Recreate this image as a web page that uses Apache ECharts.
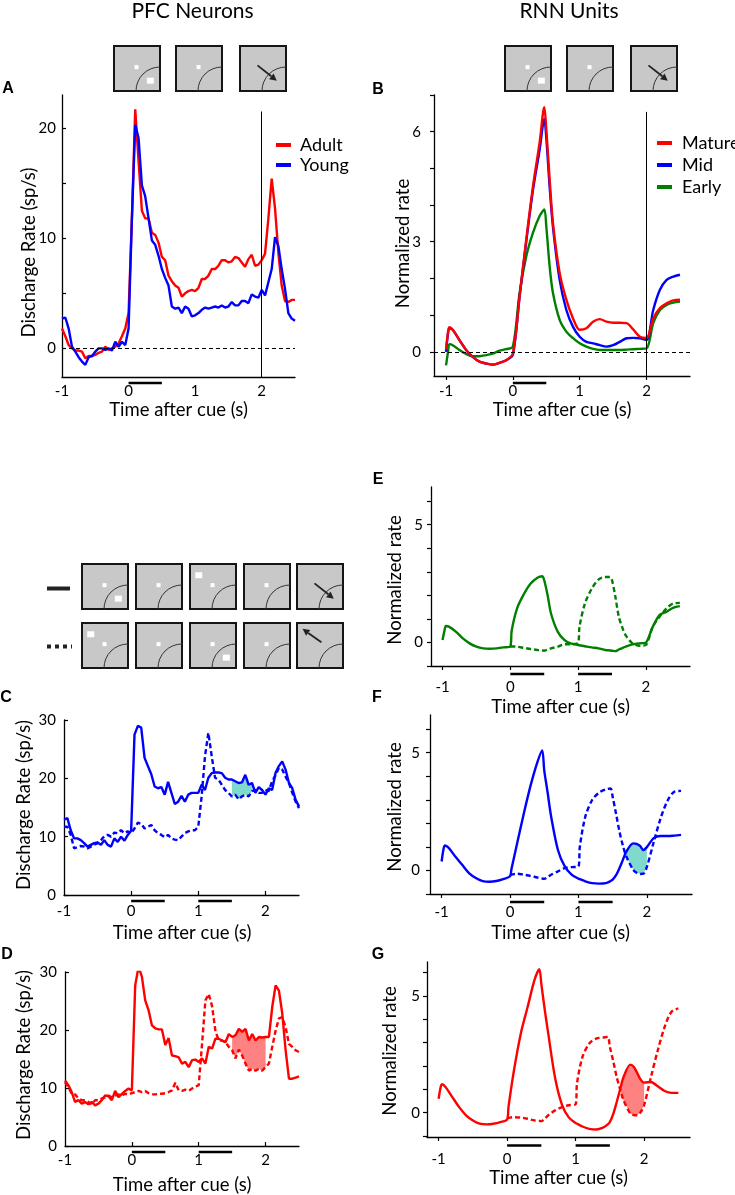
<!DOCTYPE html>
<html><head><meta charset="utf-8">
<script src="https://cdn.jsdelivr.net/npm/echarts@6/dist/echarts.min.js"></script>
<style>html,body{margin:0;padding:0;background:#fff}#c{width:735px;height:1195px}</style>
</head><body><div id="c"></div>
<script>
// ---------------- DATA ----------------
// PFC time base (s after cue), used by panels A, C, D
const tPFC = [-1,-0.95,-0.9,-0.85,-0.8,-0.75,-0.7,-0.65,-0.6,-0.55,-0.5,-0.45,-0.4,-0.35,-0.3,-0.25,-0.2,-0.15,-0.1,-0.05,
  0,0.05,0.1,0.15,0.2,0.25,0.3,0.35,0.4,0.45,0.5,0.55,0.6,0.65,0.7,0.75,0.8,0.85,0.9,0.95,
  1,1.05,1.1,1.15,1.2,1.25,1.3,1.35,1.4,1.45,1.5,1.55,1.6,1.65,1.7,1.75,1.8,1.85,1.9,1.95,
  2,2.05,2.1,2.15,2.2,2.25,2.3,2.35,2.4,2.45,2.5];
// Panel A
const adult = [1.8,1.1,0.3,0,-0.2,-0.2,-0.3,-0.9,-0.7,-0.7,-0.6,-0.4,-0.3,0.15,-0.15,0,0.15,0.45,1.1,1.8,
  3.2,11.8,21.7,17,12.5,11.8,11.8,10.5,10.3,9.6,8.3,8.0,6.6,6.1,5.7,5.5,4.7,5.0,5.2,5.3,
  5.2,5.5,6.3,6.3,6.6,7.2,7.2,7.5,8.0,8.0,7.8,7.9,8.3,8.2,7.8,7.4,8.1,8.5,7.5,7.6,
  8.0,8.6,11.8,15.4,12.7,8.7,5.7,4.3,4.2,4.4,4.4];
const young = [2.7,2.8,1.8,0.15,-0.3,-0.8,-1.2,-1.5,-0.8,-0.7,-0.3,0,0,-0.15,0,-0.2,0.6,0.15,0.6,0.3,
  1.8,11.8,20.3,19.1,14.8,13.8,11.8,9.8,9.4,8.4,7.2,6.4,5.7,3.8,3.6,3.7,3.2,3.8,3.6,2.9,
  3.0,3.2,3.5,3.7,3.6,3.7,3.8,3.7,3.9,3.7,3.8,4.2,3.9,3.9,4.3,4.3,4.1,4.9,4.7,4.6,
  5.3,4.8,6.0,7.2,10.1,9.3,7.2,5.4,3.2,2.7,2.5];
// Panel C (young, blue): solid = cue in RF, dashed = cue out of RF
const cSolid = [12.9,13.2,11.1,9.7,9.7,9.4,8.9,8.3,8.6,8.9,9.0,8.6,9.4,8.6,8.3,9.7,9.1,10.0,9.3,10.3,
  11.0,27.5,29.0,28.7,23.5,22.1,20.7,18.6,18.3,18.5,17.2,19.4,17.5,15.6,16.0,17.0,16.0,17.2,17.5,17.5,
  17.5,18.9,18.0,20.1,20.9,21.0,21.0,20.9,20.1,19.8,19.8,19.5,19.2,19.3,20.6,18.9,19.2,17.5,18.5,18.0,
  17.2,18.3,18.0,20.9,22.1,22.9,21.5,19.2,18.3,16.3,15.2];
const cDashed = [11.7,11.7,10.3,8.0,8.2,8.4,8.3,8.0,8.3,8.6,8.9,9.4,10.1,10.3,10.0,10.7,10.6,11.1,10.6,10.9,
  10.6,11.4,12.4,12.2,11.4,11.7,12.0,11.1,10.6,10.3,9.9,10.3,9.7,9.5,9.4,10.0,10.6,10.9,11.1,11.1,
  11.7,16.9,23.8,27.8,23.8,20.1,19.8,18.9,18.0,17.5,16.9,17.2,16.4,16.9,17.2,16.9,17.8,18.0,17.5,17.5,
  18.0,17.8,19.5,20.5,21.8,21.5,20.3,19.2,17.5,16.0,14.9];
// Panel D (adult, red)
const dSolid = [11.3,10.5,9.3,7.6,7.9,7.3,7.6,7.2,7.6,7.0,7.3,7.9,8.7,8.6,7.9,9.5,8.4,9.0,9.5,9.9,
  9.6,27.7,30.9,29.2,25.1,23.4,20.8,20.3,20.1,20.1,17.4,18.6,15.6,15.5,15.3,14.2,14.5,13.6,14.8,14.9,
  14.5,15.1,14.2,17.1,16.8,18.5,18.5,18.2,17.9,19.3,18.8,19.1,20.2,19.7,20.2,18.2,19.3,18.2,18.8,18.7,
  18.8,18.8,24.0,27.7,26.8,22.8,16.5,11.6,11.6,11.8,12.0];
const dDashed = [11.0,10.2,9.0,8.9,8.2,7.9,7.9,7.6,7.2,7.9,7.9,8.2,8.4,8.7,8.4,8.7,8.9,8.7,9.0,8.9,
  9.1,9.3,9.5,9.3,9.5,9.1,8.9,8.9,9.0,9.0,9.1,9.3,9.6,10.9,9.6,9.5,9.7,9.5,9.9,10.2,
  10.5,17.6,25.1,26.2,24.1,19.8,18.2,18.2,17.9,17.1,16.5,15.1,16.6,15.6,14.2,13.0,13.3,13.0,13.3,13.0,
  13.6,14.2,17.1,19.9,22.0,22.2,20.5,17.6,17.1,16.5,16.2];
// Panel B time base and RNN curves
const tB = [-1,-0.97,-0.95,-0.9,-0.8,-0.7,-0.6,-0.5,-0.4,-0.3,-0.2,-0.1,
  0,0.1,0.2,0.3,0.4,0.47,0.5,0.55,0.6,0.7,0.8,0.9,
  1,1.1,1.2,1.3,1.4,1.5,1.6,1.7,1.8,1.9,2,2.1,2.2,2.3,2.4,2.5];
const mature = [0.05,0.55,0.67,0.6,0.32,0.05,-0.14,-0.27,-0.32,-0.35,-0.3,-0.23,
  -0.05,1.5,3.06,4.5,5.7,6.67,6.07,4.7,3.5,2.15,1.42,0.91,
  0.6,0.64,0.82,0.89,0.82,0.79,0.79,0.78,0.61,0.41,0.38,0.91,1.19,1.32,1.4,1.42];
const mid = [0,0.5,0.64,0.6,0.32,0.05,-0.14,-0.27,-0.32,-0.35,-0.3,-0.23,
  -0.08,1.5,3.0,4.4,5.5,6.35,5.84,4.5,3.4,1.96,1.14,0.68,
  0.41,0.27,0.23,0.18,0.14,0.18,0.27,0.37,0.38,0.37,0.32,1.14,1.69,1.96,2.05,2.1];
const early = [-0.37,0,0.21,0.18,0.05,-0.06,-0.12,-0.12,-0.09,-0.05,0.03,0.07,
  0.14,1.6,2.6,3.24,3.7,3.88,3.42,2.33,1.6,0.87,0.55,0.37,
  0.23,0.14,0.08,0.05,0.05,0.05,0.05,0.06,0.07,0.08,0.09,0.78,1.14,1.28,1.34,1.37];
// RNN time base for panels E, F, G
const tRNN = [-1,-0.97,-0.95,-0.9,-0.8,-0.7,-0.6,-0.5,-0.4,-0.3,-0.2,-0.1,
  0,0.02,0.1,0.2,0.3,0.4,0.47,
  0.5,0.55,0.6,0.7,0.8,0.9,
  1,1.02,1.1,1.2,1.3,1.4,1.47,
  1.5,1.55,1.6,1.65,1.7,1.8,1.85,1.9,1.95,
  2,2.1,2.2,2.3,2.4,2.5];
const eSolid = [0.1,0.52,0.7,0.66,0.45,0.17,-0.04,-0.18,-0.25,-0.27,-0.25,-0.21,
  -0.16,0.5,1.45,2.05,2.5,2.75,2.81,
  2.64,2.0,1.23,0.45,0.1,-0.05,
  -0.11,-0.12,-0.16,-0.21,-0.25,-0.32,-0.34,
  -0.35,-0.37,-0.3,-0.24,-0.18,-0.08,-0.06,-0.04,-0.03,
  -0.01,0.66,1.16,1.3,1.47,1.54];
const eDashed = [null,null,null,null,null,null,null,null,null,null,null,null,
  -0.16,-0.17,-0.18,-0.23,-0.28,-0.32,-0.34,
  -0.35,-0.31,-0.25,-0.18,-0.08,-0.07,
  -0.01,0.66,1.65,2.28,2.67,2.78,2.78,
  2.64,1.93,1.09,0.65,0.31,-0.04,-0.1,-0.14,-0.13,
  -0.11,0.66,1.09,1.44,1.65,1.68];
const fSolid = [0.38,0.94,1.06,0.97,0.59,0.24,-0.11,-0.32,-0.45,-0.48,-0.45,-0.37,
  -0.25,0.05,1.1,2.4,3.6,4.6,5.1,
  4.25,3.3,2.3,0.87,0.17,-0.18,
  -0.35,-0.37,-0.46,-0.54,-0.56,-0.54,-0.45,
  -0.39,-0.2,0.1,0.45,0.8,1.15,1.13,1.04,0.87,
  0.99,1.37,1.46,1.46,1.48,1.51];
const fDashed = [null,null,null,null,null,null,null,null,null,null,null,null,
  -0.2,-0.18,-0.14,-0.18,-0.23,-0.3,-0.34,
  -0.35,-0.28,-0.18,-0.04,0.1,0.14,
  0.17,1.0,2.28,2.99,3.3,3.44,3.48,
  3.13,2.4,1.65,1.05,0.59,0.03,-0.1,-0.15,-0.14,
  0.15,1.2,2.2,2.95,3.34,3.38];
const gSolid = [0.6,1.1,1.22,1.1,0.67,0.24,-0.11,-0.33,-0.47,-0.5,-0.47,-0.4,
  -0.29,0.25,1.82,3.4,4.54,5.69,6.15,
  5.5,4.4,3.4,1.5,0.35,-0.2,
  -0.44,-0.47,-0.59,-0.69,-0.72,-0.64,-0.5,
  -0.4,-0.05,0.46,1.0,1.53,2.06,1.96,1.7,1.42,
  1.29,1.32,1.13,0.93,0.85,0.85];
const gDashed = [null,null,null,null,null,null,null,null,null,null,null,null,
  -0.23,-0.22,-0.19,-0.21,-0.26,-0.33,-0.35,
  -0.36,-0.25,-0.11,0.1,0.24,0.32,
  0.36,1.25,2.39,2.97,3.18,3.22,3.25,
  2.82,2.2,1.53,1.0,0.53,-0.04,-0.1,-0.11,0.03,
  0.32,1.53,2.68,3.68,4.33,4.47];
// stimulus epochs (s)
const epochsAB = [[0,0.5]];
const epochsCG = [[0,0.5],[1,1.5]];
// shaded windows
const shadeC = [1.5,1.8], shadeD = [1.5,2.0], shadeF = [1.65,2.0], shadeG = [1.65,2.0];
// response time marker
const respTime = 2;
// tick values
const xTickLabels = [-1,0,1,2];
const aYTicks = [0,5,10,15,20], aYLabels = [0,10,20];
const bYTicks = [0,1,2,3,4,5,6,7], bYLabels = [0,3,6];
const cdYTicks = [0,10,20,30];
const rnnYTicks = [-1,0,1,2,3,4,5,6], rnnYLabels = [0,5];

// ---------------- CHART ----------------
const FONT = 'Lato, "Open Sans", "DejaVu Sans", sans-serif';
const RED = '#ff0000', BLUE = '#0000ff', GREEN = '#008000';
const CYAN = '#80d9cd', PINK = '#ff8282';

function pairs(t, v){ const o=[]; for(let i=0;i<t.length;i++){ if(v[i]!==null && v[i]!==undefined) o.push([t[i], v[i]]); } return o; }

const P = [
  {grid:{left:62,top:95,width:233,height:282}, x:[-1,2.5], y:[-2.6,23], xt:null, xin:false, yt:aYTicks, yl:aYLabels, yin:true, xm:7, ym:6},
  {grid:{left:434,top:95,width:256,height:281}, x:[-1.18,2.65], y:[-0.66,7], xt:xTickLabels, xin:false, yt:bYTicks, yl:bYLabels, yin:false, xm:8, ym:13},
  {grid:{left:64,top:720,width:235,height:175}, x:[-1,2.5], y:[0,30], xt:[0,1,2], xin:true, yt:cdYTicks, yl:cdYTicks, yin:true, xm:9, ym:8},
  {grid:{left:65,top:972,width:234,height:174}, x:[-1,2.5], y:[0,30], xt:[0,1,2], xin:true, yt:cdYTicks, yl:cdYTicks, yin:true, xm:7, ym:8},
  {grid:{left:431,top:487,width:259,height:179}, x:[-1.17,2.65], y:[-1,6.6], xt:xTickLabels, xin:false, yt:rnnYTicks, yl:rnnYLabels, yin:false, xm:14, ym:8},
  {grid:{left:430,top:715,width:262,height:179}, x:[-1.17,2.66], y:[-1,6.6], xt:xTickLabels, xin:false, yt:rnnYTicks, yl:rnnYLabels, yin:false, xm:11, ym:10},
  {grid:{left:427,top:962,width:263,height:175}, x:[-1.17,2.67], y:[-1.04,6.46], xt:xTickLabels, xin:false, yt:rnnYTicks, yl:rnnYLabels, yin:false, xm:15, ym:7}
];

const axisLineStyle = {color:'#000', width:1.3};
const labelStyle = {fontSize:15, color:'#000', fontFamily:FONT};
const grids=[], xAxes=[], yAxes=[];
P.forEach((p,i)=>{
  grids.push(Object.assign({containLabel:false}, p.grid));
  xAxes.push({gridIndex:i, type:'value', min:p.x[0], max:p.x[1],
    axisLine:{show:true, onZero:false, lineStyle:axisLineStyle}, splitLine:{show:false},
    axisTick: p.xt ? {show:true, inside:p.xin, length:4, customValues:p.xt, lineStyle:{color:'#000', width:1.2}} : {show:false},
    axisLabel:Object.assign({customValues:xTickLabels, margin:p.xm}, labelStyle)});
  yAxes.push({gridIndex:i, type:'value', min:p.y[0], max:p.y[1],
    axisLine:{show:true, onZero:false, lineStyle:axisLineStyle}, splitLine:{show:false},
    axisTick:{show:true, inside:p.yin, length:4, customValues:p.yt, lineStyle:{color:'#000', width:1.2}},
    axisLabel:Object.assign({customValues:p.yl, margin:p.ym}, labelStyle)});
});

function line(gi, name, t, v, color, dashed, smooth, extra){
  return Object.assign({type:'line', name:name, xAxisIndex:gi, yAxisIndex:gi, data:pairs(t,v), color:color,
    symbol:'none', smooth:smooth, silent:true, z:3,
    lineStyle:{color:color, width:2.4, type: dashed ? [5,3] : 'solid'}}, extra||{});
}
// filled region between two curves over a window, drawn through the axis scales
function fill(gi, t, upper, lower, win, color){
  const rows=[];
  for(let i=0;i<t.length;i++){
    if(t[i]>=win[0]-1e-9 && t[i]<=win[1]+1e-9 && upper[i]!=null && lower[i]!=null) rows.push([t[i], upper[i], lower[i]]);
  }
  return {type:'custom', xAxisIndex:gi, yAxisIndex:gi, data:rows, silent:true, z:1, encode:{x:0, y:[1,2]},
    renderItem:(params, api)=>{
      if(params.dataIndex!==0) return null;
      const top=rows.map(r=>api.coord([r[0], Math.max(r[1], r[2])]));
      const bot=rows.map(r=>api.coord([r[0], r[2]])).reverse();
      return {type:'polygon', shape:{points:top.concat(bot)}, style:{fill:color}};
    }};
}
function epochs(gi, ep, yBottom, off){
  return {type:'custom', xAxisIndex:gi, yAxisIndex:gi, data:ep, clip:false, silent:true, z:5, encode:{x:[0,1]},
    renderItem:(params, api)=>{
      const a=api.coord([api.value(0), yBottom]), b=api.coord([api.value(1), yBottom]);
      return {type:'line', shape:{x1:a[0], y1:a[1]+off, x2:b[0], y2:b[1]+off}, style:{stroke:'#000', lineWidth:2.5}};
    }};
}
function refLines(yMin, vTop){
  const data = [{yAxis:0, lineStyle:{color:'#000', width:1, type:[4,3]}}];
  if(vTop!==null) data.push([{coord:[respTime, yMin], lineStyle:{color:'#000', width:1, type:'solid'}}, {coord:[respTime, vTop]}]);
  return {silent:true, symbol:['none','none'], label:{show:false}, animation:false, lineStyle:{type:'solid', color:'#000', width:1}, data:data};
}

const RS = 0.3; // smoothing for RNN curves
const series = [
  // A
  line(0,'Adult',tPFC,adult,RED,false,false,{markLine:refLines(-2.6,21.5)}),
  line(0,'Young',tPFC,young,BLUE,false,false),
  epochs(0,epochsAB,-2.6,6),
  // B
  line(1,'Early',tB,early,GREEN,false,RS,{markLine:refLines(-0.66,6.54)}),
  line(1,'Mid',tB,mid,BLUE,false,RS),
  line(1,'Mature',tB,mature,RED,false,RS),
  epochs(1,epochsAB,-0.66,7),
  // C
  fill(2,tPFC,cSolid,cDashed,shadeC,CYAN),
  line(2,'C cue in',tPFC,cSolid,BLUE,false,false),
  line(2,'C cue out',tPFC,cDashed,BLUE,true,false),
  epochs(2,epochsCG,0,6),
  // D
  fill(3,tPFC,dSolid,dDashed,shadeD,PINK),
  line(3,'D cue in',tPFC,dSolid,RED,false,false),
  line(3,'D cue out',tPFC,dDashed,RED,true,false),
  epochs(3,epochsCG,0,6),
  // E
  line(4,'E cue in',tRNN,eSolid,GREEN,false,RS),
  line(4,'E cue out',tRNN,eDashed,GREEN,true,RS),
  epochs(4,epochsCG,-1,8),
  // F
  fill(5,tRNN,fSolid,fDashed,shadeF,CYAN),
  line(5,'F cue in',tRNN,fSolid,BLUE,false,RS),
  line(5,'F cue out',tRNN,fDashed,BLUE,true,RS),
  epochs(5,epochsCG,-1,8),
  // G
  fill(6,tRNN,gSolid,gDashed,shadeG,PINK),
  line(6,'G cue in',tRNN,gSolid,RED,false,RS),
  line(6,'G cue out',tRNN,gDashed,RED,true,RS),
  epochs(6,epochsCG,-1.04,8.5)
];

// ---------------- GRAPHICS (titles, letters, task icons) ----------------
function txt(s, x, y, size, rot, weight, fam){
  return {type:'text', x:x, y:y, rotation:rot||0, silent:true, z:100,
    style:{text:s, x:0, y:0, fill:'#000', fontSize:size, fontFamily:fam||FONT, fontWeight:weight||'normal',
      align:'center', verticalAlign:'middle', textAlign:'center', textVerticalAlign:'middle'}};
}
const G = [];
G.push(txt('PFC Neurons',192.5,11,21));
G.push(txt('RNN Units',569,11,21));
[['A',8,89],['B',378,90],['C',6,698],['D',7,955],['E',378,480],['F',377,698],['G',378,955]].forEach(l=>G.push(txt(l[0],l[1],l[2],16,0,'bold','"Liberation Sans", Arial, sans-serif')));
const XT = 'Time after cue (s)', YP = 'Discharge Rate (sp/s)', YR = 'Normalized rate';
[[178.5,410],[562,410],[182,933],[182,1185],[560.5,707],[560.5,933],[558.5,1178]].forEach(p=>G.push(txt(XT,p[0],p[1],18.5)));
[[29,252.5,YP],[403.5,243.5,YR],[24,805,YP],[24,1055,YP],[395,580,YR],[395,807,YR],[390.5,1051,YR]].forEach(p=>G.push(txt(p[2],p[0],p[1],18.5,Math.PI/2)));

function arrowEls(x1,y1,x2,y2){
  const a=Math.atan2(y2-y1,x2-x1), L=7, W=3.6;
  const bx=x2-L*Math.cos(a), by=y2-L*Math.sin(a);
  return [
    {type:'line', shape:{x1:x1,y1:y1,x2:bx,y2:by}, style:{stroke:'#222', lineWidth:1.8}},
    {type:'polygon', shape:{points:[[x2,y2],[bx+W*Math.sin(a),by-W*Math.cos(a)],[bx-W*Math.sin(a),by+W*Math.cos(a)]]}, style:{fill:'#222'}}
  ];
}
function icon(x, y, opt){
  const w=46, h=45, ch=[];
  ch.push({type:'rect', shape:{x:x,y:y,width:w,height:h}, style:{fill:'#c8c8c8', stroke:'#151515', lineWidth:2}});
  ch.push({type:'arc', shape:{cx:x+w, cy:y+h, r:24, startAngle:Math.PI, endAngle:1.5*Math.PI, clockwise:true}, style:{stroke:'#333', fill:null, lineWidth:1}});
  if(!opt.noFix) ch.push({type:'rect', shape:{x:x+0.49*w-2, y:y+0.47*h-2, width:4, height:4}, style:{fill:'#fff'}});
  if(opt.sq) ch.push({type:'rect', shape:{x:x+opt.sq[0]*w-3.5, y:y+opt.sq[1]*h-3, width:7, height:6}, style:{fill:'#fff'}});
  if(opt.arrow){ const r=opt.arrow; arrowEls(x+r[0]*w,y+r[1]*h,x+r[2]*w,y+r[3]*h).forEach(e=>ch.push(e)); }
  return ch;
}
const LR=[0.79,0.77], UL=[0.19,0.25];
const ARR_DOWN=[0.38,0.43,0.8,0.77], ARR_UP=[0.53,0.43,0.12,0.13];
let icons=[];
[[114,{sq:LR}],[176,{}],[240,{arrow:ARR_DOWN, noFix:true}]].forEach(b=>icons=icons.concat(icon(b[0],46,b[1])));
[[505,{sq:LR}],[567,{}],[631,{arrow:ARR_DOWN, noFix:true}]].forEach(b=>icons=icons.concat(icon(b[0],46,b[1])));
const xs=[82,136,190,244,297];
[{sq:LR},{},{sq:UL},{},{arrow:ARR_DOWN,noFix:true}].forEach((o,i)=>icons=icons.concat(icon(xs[i],564,o)));
[{sq:UL},{},{sq:LR},{},{arrow:ARR_UP,noFix:true}].forEach((o,i)=>icons=icons.concat(icon(xs[i],623,o)));
icons.push({type:'line', shape:{x1:47,y1:588.5,x2:70,y2:588.5}, style:{stroke:'#222', lineWidth:4}});
icons.push({type:'line', shape:{x1:47,y1:646.5,x2:72,y2:646.5}, style:{stroke:'#222', lineWidth:4, lineDash:[4,4]}});
icons.forEach(e=>{e.silent=true; e.z=90;});

const option = {
  animation:false,
  backgroundColor:'#fff',
  textStyle:{fontFamily:FONT},
  grid:grids, xAxis:xAxes, yAxis:yAxes, series:series,
  legend:[
    {data:['Adult','Young'], left:276, top:135, orient:'vertical', icon:'rect', itemWidth:15, itemHeight:4, itemGap:0, padding:0, selectedMode:false,
      textStyle:{fontSize:18, fontFamily:FONT, color:'#000', lineHeight:20, padding:[0,0,0,4]}},
    {data:['Mature','Mid','Early'], left:657, top:132, orient:'vertical', icon:'rect', itemWidth:15, itemHeight:4, itemGap:0, padding:0, selectedMode:false,
      textStyle:{fontSize:18, fontFamily:FONT, color:'#000', lineHeight:22, padding:[0,0,0,5]}}
  ],
  graphic:{elements:G.concat(icons)}
};
const chart = echarts.init(document.getElementById('c'), null, {renderer:'canvas'});
chart.setOption(option);
</script></body></html>
